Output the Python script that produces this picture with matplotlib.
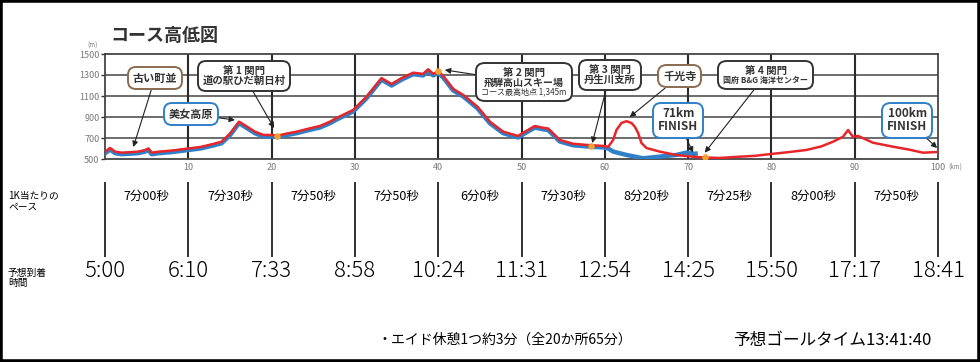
import numpy as np
import matplotlib
matplotlib.use("Agg")
import matplotlib.pyplot as plt
from matplotlib.offsetbox import TextArea, VPacker, AnnotationBbox
from matplotlib.patches import Rectangle
import matplotlib.transforms as mtransforms

plt.rcParams["font.family"] = ["Noto Sans CJK JP", "DejaVu Sans"]

# shared part of both courses (km, m)
km_common = [0, 0.6, 1.2, 2, 3, 4, 4.8, 5.2, 5.6, 6.5, 8, 10, 11.5, 13, 14, 15,
             16.1, 17, 18, 19, 20, 20.7, 22, 23, 24.5, 25.8, 27, 27.8, 29.8,
             31.4, 33.2, 34.4, 35.6, 37, 38.2, 38.8, 39.4, 40, 40.6, 41.8, 43,
             44.7, 46.2, 47.8, 49.6, 50, 51.6, 52.4, 53.2, 54.6, 56.2, 58.4,
             59.8, 60.4]
elev_common = [567, 605, 570, 560, 565, 570, 585, 600, 560, 570, 580, 600, 615,
               643, 665, 740, 855, 810, 760, 729, 729, 722, 745, 760, 790, 814,
               855, 890, 967, 1093, 1270, 1214, 1270, 1322, 1310, 1354, 1310,
               1335, 1290, 1167, 1110, 998, 855, 760, 719, 740, 814, 800, 790,
               681, 645, 630, 625, 615]

# 100km course after the split
km_100 = [61, 61.4, 62, 62.6, 63.2, 63.6, 64, 64.4, 65, 66.6, 68.6, 70.6, 71.8,
          73.8, 76.2, 78, 80, 82, 84.2, 86, 87.4, 88.6, 89.2, 89.8, 90.4, 92.2,
          94.6, 96.5, 98.2, 100]
elev_100 = [681, 776, 843, 860, 843, 808, 748, 652, 605, 570, 538, 522, 515,
            510, 522, 530, 548, 565, 586, 620, 665, 712, 776, 710, 720, 655,
            617, 590, 560, 567]

# 71km course after the split
km_71 = [61, 62.6, 64.6, 66.6, 68.6, 69.8, 70.6, 70.9]
elev_71 = [585, 553, 521, 537, 553, 575, 563, 565]

# checkpoints (orange dots)
gate_km = [20.7, 40.0, 58.4, 72.0]
gate_elev = [722, 1335, 622, 515]

# pace table
split_km = [0, 10, 20, 30, 40, 50, 60, 70, 80, 90, 100]
arrival = ["5:00", "6:10", "7:33", "8:58", "10:24", "11:31", "12:54",
           "14:25", "15:50", "17:17", "18:41"]
pace_km = [5, 15, 25, 35, 45, 55, 65, 75, 85, 95]
pace = ["7分00秒", "7分30秒", "7分50秒", "7分50秒", "6分0秒", "7分30秒",
        "8分20秒", "7分25秒", "8分00秒", "7分50秒"]

RED = "#e8262a"
BLUE = "#2f80c8"
BROWN = "#8c6a4f"
DARK = "#333333"


def box(ax, lines, center, target, edge):
    areas = [TextArea(t, textprops=dict(fontsize=s, fontweight=w, color=DARK))
             for t, s, w in lines]
    pack = VPacker(children=areas, align="center", pad=0, sep=0)
    ab = AnnotationBbox(pack, target, xybox=center, xycoords="data",
                        boxcoords="data", box_alignment=(0.5, 0.5), pad=0.35,
                        bboxprops=dict(boxstyle="round,pad=0.35,rounding_size=0.6",
                                       fc="white", ec=edge, lw=1.4),
                        arrowprops=dict(arrowstyle="-|>", color="#222222",
                                        lw=0.8, mutation_scale=6,
                                        shrinkA=0, shrinkB=0))
    ax.add_artist(ab)


def main():
    fig = plt.figure(figsize=(9.8, 3.62), dpi=100)
    L, W = 105 / 980, 833 / 980
    ax = fig.add_axes([L, 1 - 159 / 362, W, 105 / 362])

    # elevation lines
    off = mtransforms.offset_copy(ax.transData, fig=fig, x=0, y=-1.5, units="dots")
    ax.plot(km_common + km_71, elev_common + elev_71, color=BLUE, lw=3.2,
            transform=off, solid_joinstyle="round", zorder=3)
    ax.plot(km_common + km_100, elev_common + elev_100, color=RED, lw=1.8,
            solid_joinstyle="round", zorder=4)
    ax.scatter(gate_km, gate_elev, s=22, color="#f5a030", zorder=5, lw=0)

    ax.set_xlim(0, 100)
    ax.set_ylim(500, 1500)
    ax.set_yticks([500, 700, 900, 1100, 1300, 1500])
    ax.set_xticks(range(10, 101, 10))
    ax.set_xticklabels([str(v) for v in range(10, 101, 10)])
    ax.tick_params(axis="y", length=3, width=1, color=DARK, labelsize=6.5,
                   labelcolor="#777777", pad=1)
    ax.tick_params(axis="x", length=0, labelsize=6.5, labelcolor="#777777", pad=3)
    for y in [700, 900, 1100, 1300]:
        ax.axhline(y, color="#444444", lw=1.1, zorder=1)
    for x in range(10, 100, 10):
        ax.axvline(x, color="#2a2a2a", lw=1.5, zorder=1)
    for s in ax.spines.values():
        s.set_color("#444444")
        s.set_linewidth(1.3)
    ax.text(-0.015, 1.06, "(m)", transform=ax.transAxes, fontsize=4.5,
            color="#777777", ha="center")
    ax.text(1.013, -0.075, "(km)", transform=ax.transAxes, fontsize=4.5,
            color="#777777", ha="left", va="center")

    # annotation boxes
    box(ax, [("古い町並", 8, "bold")], (6.0, 1271), (3.4, 614), BROWN)
    box(ax, [("美女高原", 8, "bold")], (10.3, 928), (15.6, 871), BLUE)
    box(ax, [("第 1 関門", 7.5, "bold"), ("道の駅ひだ朝日村", 7.5, "bold")],
        (16.7, 1290), (20.3, 795), DARK)
    box(ax, [("第 2 関門", 7.5, "bold"), ("飛騨高山スキー場", 7.2, "bold"),
             ("コース最高地点 1,345m", 5.8, "normal")],
        (50.3, 1233), (40.8, 1348), DARK)
    box(ax, [("第 3 関門", 7.5, "bold"), ("丹生川支所", 7.5, "bold")],
        (60.6, 1300), (58.5, 652), DARK)
    box(ax, [("千光寺", 8, "bold")], (69.0, 1290), (63.0, 900), BROWN)
    box(ax, [("71km", 8.5, "bold"), ("FINISH", 8.5, "bold")],
        (68.8, 867), (70.6, 560), BLUE)
    box(ax, [("第 4 関門", 7.5, "bold"), ("国府 B&G 海洋センター", 5.8, "bold")],
        (79.3, 1300), (72.0, 560), DARK)
    box(ax, [("100km", 8.5, "bold"), ("FINISH", 8.5, "bold")],
        (96.3, 867), (99.9, 605), BLUE)

    # pace / arrival table
    at = fig.add_axes([L, 0, W, 180 / 362])
    at.set_xlim(0, 100)
    at.set_ylim(0, 1)
    at.axis("off")
    at.vlines(split_km, 0.583, 1.0, color="#222222", lw=1.3, clip_on=False)
    for x, t in zip(pace_km, pace):
        at.text(x, 0.922, t, ha="center", va="center", fontsize=9)
    for x, t in zip(split_km, arrival):
        at.text(x, 0.506, t, ha="center", va="center", fontsize=16,
                fontweight="light", clip_on=False)

    fig.text(110 / 980, 1 - 35 / 362, "コース高低図", fontsize=13,
             fontweight="bold", color=DARK, va="center")
    fig.text(8 / 980, 1 - 201 / 362, "1K当たりの\nペース", fontsize=7,
             va="center", linespacing=1.1)
    fig.text(8 / 980, 1 - 278 / 362, "予想到着\n時間", fontsize=7,
             va="center", linespacing=1.1)
    fig.text(377 / 980, 1 - 340 / 362, "・エイド休憩1つ約3分（全20か所65分）",
             fontsize=10, va="center")
    fig.text(733 / 980, 1 - 340 / 362, "予想ゴールタイム13:41:40",
             fontsize=12, va="center")

    fig.patches.append(Rectangle((0, 0), 1, 1, transform=fig.transFigure,
                                 fill=False, ec="black", lw=4))
    fig.savefig("out.png", dpi=100)


if __name__ == "__main__":
    main()
